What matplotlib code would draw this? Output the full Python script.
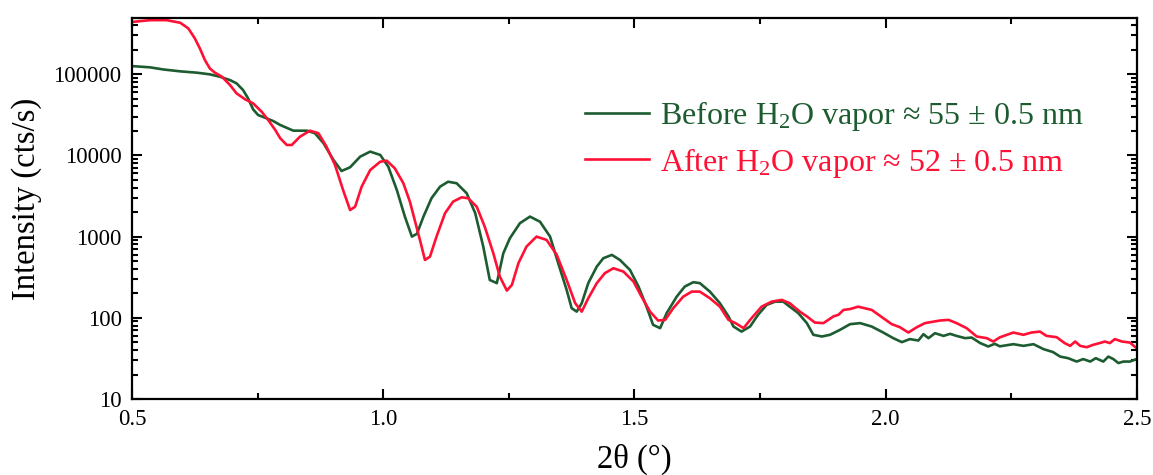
import numpy as np
import matplotlib
matplotlib.use("Agg")
import matplotlib.pyplot as plt
from matplotlib.ticker import LogLocator, MultipleLocator, FuncFormatter, NullFormatter

plt.rcParams['font.family'] = ['Liberation Serif', 'DejaVu Serif']
plt.rcParams['mathtext.default'] = 'regular'

# XRR scans: 2theta (deg) and intensity (cts/s)
tt_before = [0.503, 0.536, 0.562, 0.596, 0.629, 0.655, 0.675, 0.695, 0.708, 0.721, 0.731, 0.741,
             0.751, 0.768, 0.781, 0.795, 0.821, 0.848, 0.864, 0.881, 0.901, 0.917, 0.934, 0.954,
             0.974, 0.994, 1.010, 1.027, 1.043, 1.057, 1.067, 1.080, 1.096, 1.113, 1.129, 1.146,
             1.166, 1.183, 1.199, 1.212, 1.226, 1.239, 1.252, 1.272, 1.292, 1.312, 1.332, 1.348,
             1.365, 1.375, 1.385, 1.395, 1.408, 1.425, 1.438, 1.455, 1.471, 1.491, 1.508, 1.524,
             1.537, 1.551, 1.564, 1.584, 1.600, 1.617, 1.630, 1.650, 1.670, 1.687, 1.697, 1.713,
             1.730, 1.746, 1.763, 1.780, 1.796, 1.809, 1.826, 1.843, 1.856, 1.873, 1.889, 1.909,
             1.929, 1.949, 1.972, 1.995, 2.015, 2.032, 2.048, 2.065, 2.075, 2.085, 2.098, 2.115,
             2.128, 2.141, 2.158, 2.171, 2.188, 2.204, 2.217, 2.227, 2.254, 2.274, 2.294, 2.314,
             2.333, 2.347, 2.363, 2.380, 2.393, 2.407, 2.418, 2.433, 2.443, 2.453, 2.463, 2.473,
             2.486, 2.499]
int_before = [125000, 121000, 114000, 108000, 104000, 99200, 92700, 84300, 76900, 63600, 50200, 36800,
              31300, 28500, 26400, 23600, 20100, 20100, 18700, 14100, 8750, 6410, 7120, 9620,
              11100, 10100, 7240, 3740, 1760, 998, 1080, 1760, 2960, 4110, 4730, 4530,
              3410, 1940, 752, 292, 267, 624, 953, 1460, 1760, 1520, 998, 473,
              220, 131, 119, 151, 267, 427, 541, 594, 515, 388, 242, 137,
              81.8, 74.5, 114, 182, 242, 274, 267, 210, 151, 104, 78, 67.6,
              78, 109, 144, 158, 158, 137, 114, 85.9, 61.7, 58.8, 61.7, 71,
              83.4, 85.9, 78, 65.8, 56.1, 50.1, 54.6, 52.5, 62.8, 56.1, 64.6, 59.8,
              63.4, 59.8, 56.1, 57.1, 48.8, 44.3, 47.8, 44.5, 47.3, 45.1, 47.3, 41.1,
              37.8, 33.3, 31.8, 28.9, 31.0, 28.9, 31.8, 28.9, 33.3, 31.0, 27.7, 28.9,
              28.9, 31.0]

tt_after = [0.503, 0.536, 0.569, 0.596, 0.612, 0.625, 0.635, 0.645, 0.655, 0.665, 0.679, 0.695,
            0.708, 0.725, 0.741, 0.758, 0.771, 0.785, 0.791, 0.795, 0.808, 0.818, 0.834, 0.854,
            0.871, 0.887, 0.904, 0.920, 0.934, 0.944, 0.957, 0.974, 0.994, 1.007, 1.023, 1.040,
            1.053, 1.067, 1.073, 1.083, 1.093, 1.106, 1.123, 1.139, 1.156, 1.169, 1.186, 1.202,
            1.219, 1.232, 1.246, 1.256, 1.269, 1.285, 1.305, 1.325, 1.345, 1.365, 1.382, 1.395,
            1.408, 1.425, 1.441, 1.458, 1.478, 1.498, 1.514, 1.531, 1.547, 1.561, 1.577, 1.597,
            1.614, 1.630, 1.650, 1.670, 1.687, 1.701, 1.717, 1.733, 1.753, 1.773, 1.793, 1.809,
            1.829, 1.843, 1.859, 1.876, 1.896, 1.906, 1.916, 1.929, 1.945, 1.972, 1.995, 2.012,
            2.028, 2.045, 2.062, 2.078, 2.095, 2.108, 2.125, 2.141, 2.161, 2.181, 2.201, 2.214,
            2.227, 2.254, 2.274, 2.290, 2.307, 2.320, 2.340, 2.356, 2.367, 2.377, 2.387, 2.400,
            2.413, 2.426, 2.436, 2.446, 2.456, 2.470, 2.486, 2.499]
int_after = [440000, 461000, 461000, 428000, 365000, 275000, 207000, 149000, 117000, 104000, 92700, 73300,
             57900, 48900, 43600, 34400, 27200, 20500, 17800, 16200, 13400, 13400, 16900, 20100,
             18700, 12800, 7600, 3740, 2120, 2330, 4110, 6590, 8340, 8590, 6920, 4530,
             2690, 1260, 908, 515, 566, 998, 1940, 2690, 3040, 2960, 2330, 1320,
             624, 321, 216, 254, 470, 752, 998, 908, 600, 292, 151, 119,
             174, 267, 354, 407, 370, 279, 182, 119, 92.5, 94.2, 131, 182,
             210, 210, 174, 137, 94.2, 85.9, 74.5, 98.9, 137, 158, 166, 151,
             119, 104, 87.3, 85.9, 104, 109, 125, 128, 137, 125, 98.9, 83.4,
             76.6, 65.8, 76.6, 85.9, 89.7, 92.5, 94.2, 85.9, 74.5, 58.8, 56.1, 51.0,
             57.4, 65.8, 61.7, 65.8, 67.6, 59.8, 57.7, 48.8, 45.1, 51.0, 45.1, 43.4,
             46.5, 48.8, 51.0, 48.8, 54.6, 51.0, 49.5, 42.3]

green = '#1d5c30'
red = '#ff1035'

fig = plt.figure(figsize=(11.53, 4.75), dpi=100)
ax = fig.add_axes([0.1145, 0.16, 0.8716, 0.8021])

ax.plot(tt_before, int_before, color=green, lw=1.9, solid_joinstyle='round',
        label='Before H$_2$O vapor ≈ 55 ± 0.5 nm')
ax.plot(tt_after, int_after, color=red, lw=1.9, solid_joinstyle='round',
        label='After H$_2$O vapor ≈ 52 ± 0.5 nm')

ax.set_yscale('log')
ax.set_xlim(0.5, 2.5)
ax.set_ylim(10, 490000)

ax.xaxis.set_major_locator(MultipleLocator(0.5))
ax.xaxis.set_minor_locator(MultipleLocator(0.25))
ax.xaxis.set_major_formatter(FuncFormatter(lambda v, p: '%.1f' % v))
ax.yaxis.set_major_locator(LogLocator(base=10))
ax.yaxis.set_minor_locator(LogLocator(base=10, subs=np.arange(2, 10)))
ax.yaxis.set_major_formatter(FuncFormatter(lambda v, p: '%d' % round(v)))
ax.yaxis.set_minor_formatter(NullFormatter())

ax.tick_params(which='both', direction='in', top=True, right=True, width=1.5,
               labelsize=16.5)
ax.tick_params(axis='x', pad=7)
ax.tick_params(axis='y', pad=7.5)
ax.tick_params(which='major', length=7)
ax.tick_params(which='minor', length=4)
for s in ax.spines.values():
    s.set_linewidth(1.6)

ax.set_xlabel('2θ (°)', fontsize=23.5, labelpad=10)
ax.set_ylabel('Intensity (cts/s)', fontsize=23.5)
ax.yaxis.set_label_coords(-0.09, 0.526)

leg = ax.legend(loc='center left', bbox_to_anchor=(0.4507, 0.682), frameon=False,
                fontsize=23, handlelength=2.0, handletextpad=0.35, labelspacing=0.4,
                borderpad=0, borderaxespad=0, labelcolor='linecolor')

fig.savefig('out.png', dpi=100)
